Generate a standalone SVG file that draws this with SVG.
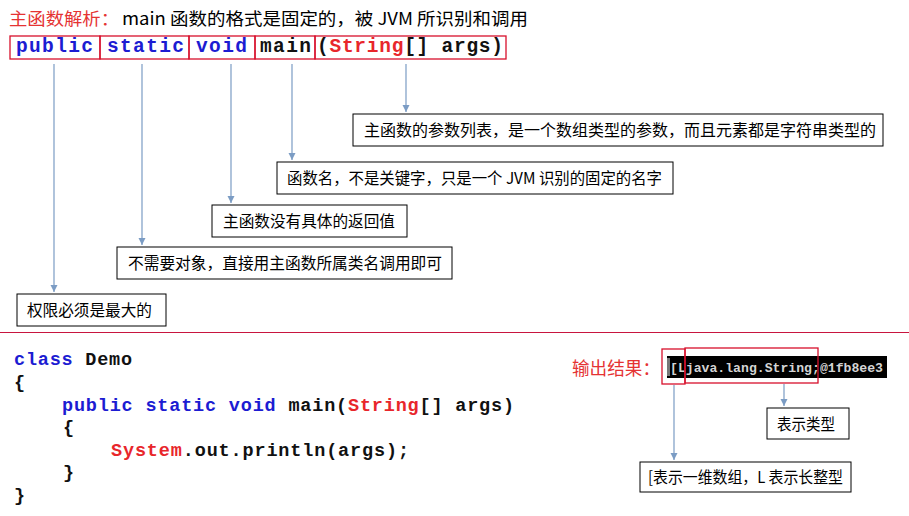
<svg xmlns="http://www.w3.org/2000/svg" width="909" height="516" viewBox="0 0 909 516">
<defs>
<marker id="ah" markerUnits="userSpaceOnUse" markerWidth="8" markerHeight="8" refX="7" refY="4" orient="auto">
<path d="M0,0.5 L7,4 L0,7.5 z" fill="#7b9cc4"/>
</marker>
<style>
.cjk{font-family:"Noto Sans CJK SC","Liberation Sans",sans-serif;font-size:16px;fill:#000}
.code{font-family:"Liberation Mono","Courier New",monospace;font-weight:bold;font-size:18.5px;fill:#111}
.top{font-size:19.5px}
.kw{fill:#1c1cd2}
.rd{fill:#e8262b}
.kbox{fill:none;stroke:#d8102c;stroke-width:1.3}
.nbox{fill:#fff;stroke:#000;stroke-width:1}
.conn line{stroke:#7b9cc4;stroke-width:1.2;marker-end:url(#ah)}
</style>
</defs>
<rect width="909" height="516" fill="#fff"/>

<g id="title">
<text x="9" y="25" class="cjk" style="font-size:17px;fill:#e53333" textLength="110" lengthAdjust="spacingAndGlyphs">主函数解析：</text>
<text x="122" y="25" class="cjk" style="font-size:17px" textLength="406" lengthAdjust="spacingAndGlyphs">main 函数的格式是固定的，被 JVM 所识别和调用</text>
</g>

<g id="signature">
<rect class="kbox" x="10" y="36" width="90" height="23"/>
<rect class="kbox" x="100" y="36" width="89" height="23"/>
<rect class="kbox" x="189" y="36" width="66" height="23"/>
<rect class="kbox" x="255" y="36" width="60" height="23"/>
<rect class="kbox" x="315" y="36" width="191" height="23"/>
<text class="code top" x="16" y="52" textLength="77"><tspan class="kw">public</tspan></text>
<text class="code top" x="107" y="52" textLength="77"><tspan class="kw">static</tspan></text>
<text class="code top" x="196" y="52" textLength="51"><tspan class="kw">void</tspan></text>
<text class="code top" x="260" y="52" textLength="51">main</text>
<text class="code top" x="317" y="52" textLength="186">(<tspan class="rd">String</tspan>[] args)</text>
</g>

<g class="conn" id="connectors">
<line x1="54" y1="64" x2="54" y2="292"/>
<line x1="142" y1="64" x2="142" y2="245"/>
<line x1="231" y1="64" x2="231" y2="203"/>
<line x1="292" y1="64" x2="292" y2="160"/>
<line x1="406" y1="64" x2="406" y2="112"/>
<line x1="674" y1="385" x2="674" y2="460"/>
<line x1="784" y1="384" x2="784" y2="406"/>
</g>

<g id="n-args">
<rect class="nbox" x="353" y="114" width="530" height="32"/>
<text class="cjk" x="364" y="136" textLength="512" lengthAdjust="spacingAndGlyphs">主函数的参数列表，是一个数组类型的参数，而且元素都是字符串类型的</text>
</g>
<g id="n-main">
<rect class="nbox" x="277" y="162" width="396" height="32"/>
<text class="cjk" x="287" y="184" textLength="375" lengthAdjust="spacingAndGlyphs">函数名，不是关键字，只是一个 JVM 识别的固定的名字</text>
</g>
<g id="n-void">
<rect class="nbox" x="212" y="205" width="195" height="32"/>
<text class="cjk" x="223" y="227" textLength="172" lengthAdjust="spacingAndGlyphs">主函数没有具体的返回值</text>
</g>
<g id="n-static">
<rect class="nbox" x="117" y="247" width="335" height="32"/>
<text class="cjk" x="128" y="269" textLength="314" lengthAdjust="spacingAndGlyphs">不需要对象，直接用主函数所属类名调用即可</text>
</g>
<g id="n-public">
<rect class="nbox" x="17" y="294" width="149" height="32"/>
<text class="cjk" x="27" y="316" textLength="125" lengthAdjust="spacingAndGlyphs">权限必须是最大的</text>
</g>

<line x1="0" y1="332.5" x2="909" y2="332.5" stroke="#c8153f" stroke-width="1.2"/>

<g id="code">
<text class="code" x="14" y="365" textLength="118"><tspan class="kw">class</tspan> Demo</text>
<text class="code" x="14" y="388">{</text>
<text class="code" x="62" y="411" textLength="452"><tspan class="kw">public</tspan> <tspan class="kw">static</tspan> <tspan class="kw">void</tspan> main(<tspan class="rd">String</tspan>[] args)</text>
<text class="code" x="63" y="433">{</text>
<text class="code" x="111" y="456" textLength="298"><tspan class="rd">System</tspan>.out.println(args);</text>
<text class="code" x="63" y="478">}</text>
<text class="code" x="14" y="501">}</text>
</g>

<g id="output">
<text class="cjk" x="572" y="375" style="font-size:18px;fill:#e53333" textLength="88" lengthAdjust="spacingAndGlyphs">输出结果：</text>
<rect x="667" y="356" width="220" height="22" fill="#000"/>
<rect x="667" y="358" width="3" height="18" fill="#777"/>
<text x="670" y="372" style="font-family:'Liberation Mono','Courier New',monospace;font-weight:bold;font-size:13.5px;fill:#d4d4d4" textLength="213" lengthAdjust="spacingAndGlyphs">[Ljava.lang.String;@1fb8ee3</text>
<rect class="kbox" x="662" y="349" width="23" height="35"/>
<rect class="kbox" x="685" y="348" width="133" height="35"/>
</g>

<g id="n-type">
<rect class="nbox" x="767" y="408" width="82" height="31"/>
<text class="cjk" x="777" y="430" textLength="58" lengthAdjust="spacingAndGlyphs">表示类型</text>
</g>
<g id="n-array">
<rect class="nbox" x="640" y="462" width="211" height="30"/>
<text class="cjk" x="648" y="483" textLength="195" lengthAdjust="spacingAndGlyphs">[表示一维数组，L 表示长整型</text>
</g>
</svg>
